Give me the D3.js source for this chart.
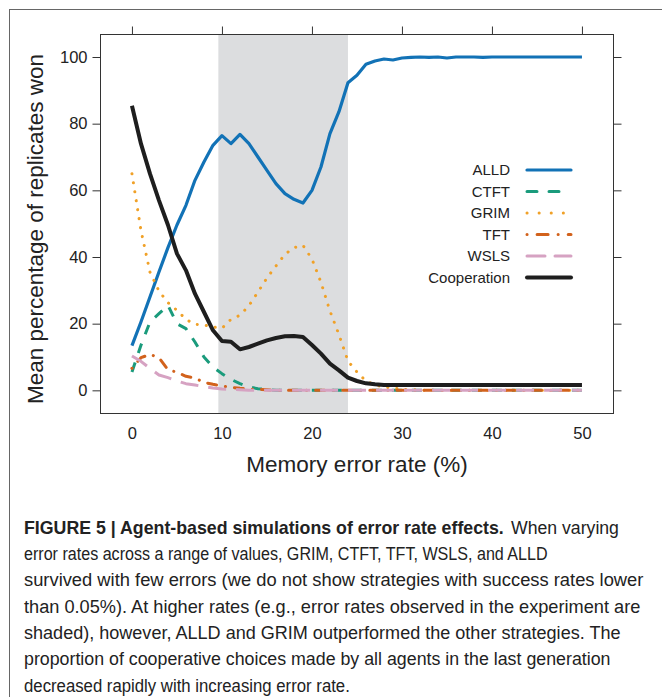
<html>
<head>
<meta charset="utf-8">
<script src="https://d3js.org/d3.v7.min.js"></script>
<style>
  body { margin: 0; background: #fff; }
  svg text { font-family: "Liberation Sans", Arial, sans-serif; fill: #222; }
</style>
</head>
<body>
<svg id="chart" width="662" height="697"></svg>
<script>
// error rates (%) on the x axis
const rates = [0,1,2,3,4,5,6,7,8,9,10,11,12,13,14,15,16,17,18,19,20,21,22,23,24,25,
  26,27,28,29,30,31,32,33,34,35,36,37,38,39,40,41,42,43,44,45,46,47,48,49,50];

// mean percentage of replicates won
const alld = [13.4,20.5,28,35.5,42.8,49.6,55.5,63,68.5,73.5,76.4,74,76.8,74,70,66,62,59,57.3,56.2,
  60,67,77,83.6,92.3,94.5,97.8,98.8,99.4,99.1,99.7,99.9,100,99.9,100,99.7,100,100,100,99.9,
  100,100,100,100,100,100,100,100,100,100,100];
const ctft = [5.5,13.5,20.5,23,25.5,20,18.5,14.5,10,7,5,3.3,2,1,0.5,0.2,0,0,0,0,
  0,0,0,0,0,0,0,0,0,0,0,0,0,0,0,0,0,0,0,0,0,0,0,0,0,0,0,0,0,0,0];
const grim = [65,48,35.5,29.8,26.3,24,21.3,19.8,19.6,19,18.6,21.3,22.5,25.4,29.5,33.7,37.3,40.8,42.8,43.5,
  39.4,32.4,23.8,16.7,8.8,5.5,2.8,1.6,1,0.7,0.3,0.2,0.1,0,0,0,0,0,0,0,0,0,0,0,0,0,0,0,0,0,0];
const tft = [6.6,9.8,10.8,9.8,6.2,5.4,4.2,3.7,2.4,1.8,1.3,0.9,0.6,0.4,0.3,0.2,0,0,0,0,
  0,0,0,0,0,0,0,0,0,0,0,0,0,0,0,0,0,0,0,0,0,0,0,0,0,0,0,0,0,0,0];
const wsls = [10.3,8.7,6.6,4.6,3.8,2.8,2,1.6,1.1,0.7,0.4,0.3,0.2,0,0,0,0,0,0,0,
  0,0,0,0,0,0,0,0,0,0,0,0,0,0,0,0,0,0,0,0,0,0,0,0,0,0,0,0,0,0,0];
const cooperation = [85.4,74,65,57,49.6,41,36,29,23.5,18,14.8,14.6,12.3,13,14,15,15.7,16.2,16.3,16,
  13.6,11,8,6,3.8,2.8,2.1,1.8,1.6,1.6,1.6,1.6,1.6,1.6,1.6,1.6,1.6,1.6,1.6,1.6,
  1.6,1.6,1.6,1.6,1.6,1.6,1.6,1.6,1.6,1.6,1.6];

const seriesNames = ["ALLD","CTFT","GRIM","TFT","WSLS","Cooperation"];
const seriesValues = [alld, ctft, grim, tft, wsls, cooperation];
const shadedRange = [9.6, 24];
const xTicks = [0,10,20,30,40,50];
const yTicks = [0,20,40,60,80,100];

// dash: in the plot, legendDash: in the key
const styles = {
  ALLD:        {color: "#1272b6", width: 3.2, dash: null,        legendDash: null,            cap: "butt"},
  CTFT:        {color: "#1a9b7c", width: 3,   dash: "10,10",     legendDash: "10,12",         cap: "butt"},
  GRIM:        {color: "#f0a128", width: 3,   dash: "0.1,9",     legendDash: "0.1,12",        cap: "round"},
  TFT:         {color: "#d2621c", width: 3,   dash: "0.1,9,9,9", legendDash: "0.1,10,11,10",  cap: "round"},
  WSLS:        {color: "#d6a2c2", width: 3,   dash: "18,10",     legendDash: "18,10",         cap: "butt"},
  Cooperation: {color: "#1e1e1e", width: 4,   dash: null,        legendDash: null,            cap: "butt"}
};

const svg = d3.select("#chart");
const box = {left: 100, right: 613, top: 34, bottom: 413};

var x = d3.scaleLinear().domain([-3.55, 53.45]).range([box.left, box.right]);
var y = d3.scaleLinear().domain([-6.8, 106.9]).range([box.bottom, box.top]);

// outer figure frame
svg.append("rect").attr("x", 9.5).attr("y", 9.5).attr("width", 700).attr("height", 720)
  .attr("fill", "none").attr("stroke", "#666").attr("stroke-width", 1);

svg.append("clipPath").attr("id", "plotclip").append("rect")
  .attr("x", box.left).attr("y", box.top)
  .attr("width", box.right - box.left).attr("height", box.bottom - box.top);

// shaded band of observed error rates
svg.append("rect")
  .attr("x", x(shadedRange[0])).attr("y", box.top)
  .attr("width", x(shadedRange[1]) - x(shadedRange[0]))
  .attr("height", box.bottom - box.top)
  .attr("fill", "#dcdddf");

const line = d3.line().x((d, i) => x(rates[i])).y(d => y(d));
const g = svg.append("g").attr("clip-path", "url(#plotclip)");
seriesNames.forEach(function(name, k) {
  const s = styles[name];
  g.append("path").datum(seriesValues[k])
    .attr("d", line)
    .attr("fill", "none")
    .attr("stroke", s.color)
    .attr("stroke-width", s.width)
    .attr("stroke-dasharray", s.dash)
    .attr("stroke-linecap", s.cap)
    .attr("stroke-linejoin", "round");
});

// plot box
svg.append("rect")
  .attr("x", box.left + 0.5).attr("y", box.top + 0.5)
  .attr("width", box.right - box.left).attr("height", box.bottom - box.top)
  .attr("fill", "none").attr("stroke", "#333").attr("stroke-width", 1);

// axes
const fmt = d3.format("d");
const axLeft = svg.append("g").attr("transform", "translate(" + (box.left + 0.5) + ",0)")
  .call(d3.axisLeft(y).tickValues(yTicks).tickSize(8).tickPadding(5).tickFormat(fmt));
const axRight = svg.append("g").attr("transform", "translate(" + (box.right + 0.5) + ",0)")
  .call(d3.axisRight(y).tickValues(yTicks).tickSize(8).tickFormat(""));
const axTop = svg.append("g").attr("transform", "translate(0," + (box.top + 0.5) + ")")
  .call(d3.axisTop(x).tickValues(xTicks).tickSize(8).tickFormat(""));
const axBottom = svg.append("g").attr("transform", "translate(0," + (box.bottom + 0.5) + ")")
  .call(d3.axisBottom(x).tickValues(xTicks).tickSize(0).tickPadding(14).tickFormat(fmt));
[axLeft, axRight, axTop, axBottom].forEach(function(a) {
  a.select(".domain").remove();
  a.selectAll(".tick line").attr("stroke", "#333");
  a.selectAll("text").style("font-size", "16.5px").attr("fill", "#222")
    .style("font-family", "Liberation Sans, Arial, sans-serif");
});

svg.append("text")
  .attr("transform", "translate(43,229) rotate(-90)")
  .attr("text-anchor", "middle")
  .style("font-size", "22.5px")
  .text("Mean percentage of replicates won");
svg.append("text")
  .attr("x", 357).attr("y", 472)
  .attr("text-anchor", "middle")
  .style("font-size", "22.5px")
  .text("Memory error rate (%)");

// legend
const legend = svg.append("g");
seriesNames.forEach(function(name, k) {
  const s = styles[name];
  const ly = 170 + k * 21.5;
  legend.append("text").attr("x", 510).attr("y", ly + 5)
    .attr("text-anchor", "end").style("font-size", "15px").text(name);
  legend.append("line")
    .attr("x1", 527).attr("x2", 571).attr("y1", ly).attr("y2", ly)
    .attr("stroke", s.color).attr("stroke-width", s.width)
    .attr("stroke-dasharray", s.legendDash)
    .attr("stroke-linecap", "round");
});

// caption: each piece is squeezed horizontally to the width it has in the figure
const captionPieces = [
  {t: "FIGURE 5 | Agent-based simulations of error rate effects.", x: 24, y: 533.5, w: 480, bold: true},
  {t: "When varying", x: 511, y: 533.5, w: 108},
  {t: "error rates across a range of values, GRIM, CTFT, TFT, WSLS, and ALLD", x: 24, y: 560, w: 524},
  {t: "survived with few errors (we do not show strategies with success rates lower", x: 24, y: 586.3, w: 620},
  {t: "than 0.05%). At higher rates (e.g., error rates observed in the experiment are", x: 24, y: 612.6, w: 617},
  {t: "shaded), however, ALLD and GRIM outperformed the other strategies. The", x: 24, y: 638.9, w: 597},
  {t: "proportion of cooperative choices made by all agents in the last generation", x: 24, y: 665.2, w: 587},
  {t: "decreased rapidly with increasing error rate.", x: 24, y: 691.5, w: 326}
];
const cap = svg.append("g").style("font-size", "18.5px");
captionPieces.forEach(function(p) {
  const t = cap.append("text").attr("x", 0).attr("y", 0)
    .style("font-weight", p.bold ? "bold" : "normal")
    .text(p.t);
  const natural = t.node().getComputedTextLength();
  t.attr("transform", "translate(" + p.x + "," + p.y + ") scale(" + (p.w / natural) + ",1)");
});
</script>
</body>
</html>
